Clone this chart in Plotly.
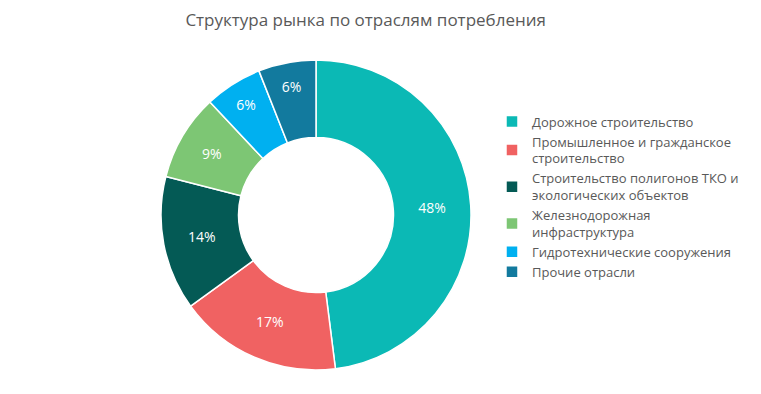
import plotly.graph_objects as go

categories = [
    "Дорожное строительство",
    "Промышленное и гражданское<br>строительство",
    "Строительство полигонов ТКО и<br>экологических объектов",
    "Железнодорожная<br>инфраструктура",
    "Гидротехнические сооружения",
    "Прочие отрасли",
]
values = [48, 17, 14, 9, 6, 6]
colors = ["#0BB9B5", "#F06262", "#045A55", "#7DC674", "#00B0F0", "#127A9E"]

fig = go.Figure(go.Pie(
    labels=categories,
    values=values,
    hole=0.5,
    sort=False,
    direction="clockwise",
    rotation=0,
    marker=dict(colors=colors, line=dict(color="white", width=1.5)),
    texttemplate="%{value}%",
    textposition="inside",
    insidetextorientation="horizontal",
    textfont=dict(color="white", size=14, family="Open Sans"),
    domain=dict(x=[152/761, 464/761], y=[32/394, 342/394]),
    hoverinfo="label+percent",
))

fig.update_layout(
    width=761, height=394,
    margin=dict(l=0, r=0, t=0, b=0),
    paper_bgcolor="white",
    plot_bgcolor="white",
    font=dict(family="Open Sans", color="#595959"),
    title=dict(text="Структура рынка по отраслям потребления", x=0.470, xanchor="center",
               y=0.97, yanchor="middle", font=dict(size=17, color="#595959")),
    legend=dict(x=0.636, y=0.52, xanchor="left", yanchor="middle",
                font=dict(size=13, color="#595959"), itemclick=False),
)

fig.write_html("out.html")
